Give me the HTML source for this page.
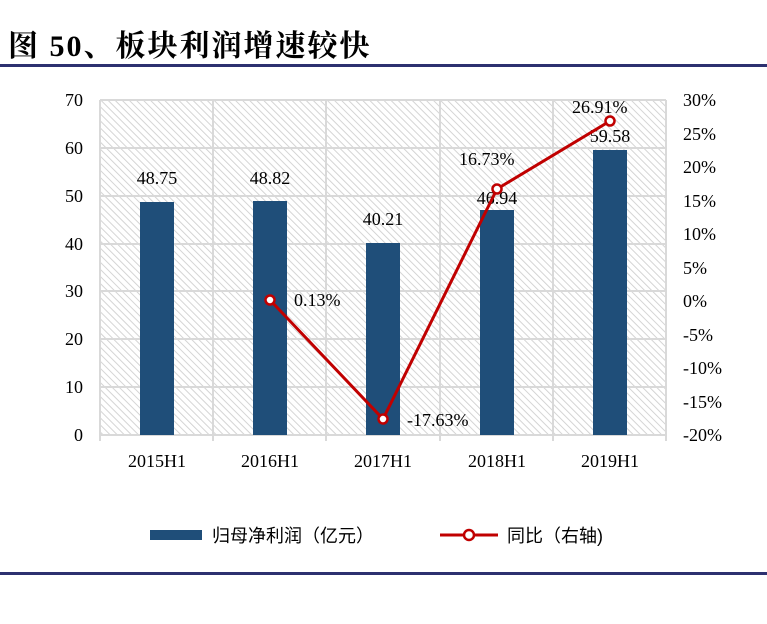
<!DOCTYPE html><html><head><meta charset="utf-8"><style>body{margin:0;background:#fff}svg{display:block}</style></head><body>
<svg width="767" height="624" xmlns="http://www.w3.org/2000/svg" font-family="Liberation Serif, Noto Serif CJK SC, serif">
<defs><pattern id="h" width="5" height="5" patternUnits="userSpaceOnUse" patternTransform="rotate(-45)"><rect width="5" height="5" fill="#fff"/><line x1="0" y1="0" x2="0" y2="5" stroke="#d0d0d0" stroke-width="1.8"/></pattern></defs>
<text x="8" y="56" font-size="30" font-weight="bold" letter-spacing="2" font-family="Liberation Serif, Noto Serif CJK SC, serif">图 50、板块利润增速较快</text>
<rect x="0" y="64" width="767" height="3" fill="#2d3170"/>
<rect x="0" y="572" width="767" height="3" fill="#2d3170"/>
<rect x="100" y="100" width="566" height="335" fill="url(#h)"/>
<g stroke="#d9d9d9" stroke-width="2">
<line x1="100" y1="100" x2="666" y2="100"/><line x1="100" y1="148" x2="666" y2="148"/><line x1="100" y1="196" x2="666" y2="196"/><line x1="100" y1="244" x2="666" y2="244"/><line x1="100" y1="291" x2="666" y2="291"/><line x1="100" y1="339" x2="666" y2="339"/><line x1="100" y1="387" x2="666" y2="387"/><line x1="100" y1="435" x2="666" y2="435"/>
<line x1="100" y1="100" x2="100" y2="441"/><line x1="213" y1="100" x2="213" y2="441"/><line x1="326" y1="100" x2="326" y2="441"/><line x1="440" y1="100" x2="440" y2="441"/><line x1="553" y1="100" x2="553" y2="441"/><line x1="666" y1="100" x2="666" y2="441"/>
</g>
<g fill="#1f4e79">
<rect x="140" y="202" width="34" height="233"/><rect x="253" y="201" width="34" height="234"/><rect x="366" y="243" width="34" height="192"/><rect x="480" y="210" width="34" height="225"/><rect x="593" y="150" width="34" height="285"/>
</g>
<g font-size="18" text-anchor="end">
<text x="83" y="106">70</text><text x="83" y="154">60</text><text x="83" y="202">50</text><text x="83" y="250">40</text><text x="83" y="297">30</text><text x="83" y="345">20</text><text x="83" y="393">10</text><text x="83" y="441">0</text>
</g>
<g font-size="18" text-anchor="start">
<text x="683" y="106">30%</text><text x="683" y="140">25%</text><text x="683" y="173">20%</text><text x="683" y="207">15%</text><text x="683" y="240">10%</text><text x="683" y="274">5%</text><text x="683" y="307">0%</text><text x="683" y="341">-5%</text><text x="683" y="374">-10%</text><text x="683" y="408">-15%</text><text x="683" y="441">-20%</text>
</g>
<g font-size="18" text-anchor="middle">
<text x="157" y="467">2015H1</text><text x="270" y="467">2016H1</text><text x="383" y="467">2017H1</text><text x="497" y="467">2018H1</text><text x="610" y="467">2019H1</text>
<text x="157" y="184">48.75</text><text x="270" y="184">48.82</text><text x="383" y="225">40.21</text><text x="497" y="204">46.94</text><text x="610" y="142">59.58</text>
</g>
<polyline points="270,300 383,419 497,189 610,121" fill="none" stroke="#c00000" stroke-width="3"/>
<g fill="#fff" stroke="#c00000" stroke-width="2.5">
<circle cx="270" cy="300" r="4.5"/><circle cx="383" cy="419" r="4.5"/><circle cx="497" cy="189" r="4.5"/><circle cx="610" cy="121" r="4.5"/>
</g>
<g font-size="18">
<text x="294" y="306">0.13%</text><text x="407" y="426">-17.63%</text><text x="459" y="165">16.73%</text><text x="572" y="113">26.91%</text>
</g>
<rect x="150" y="530" width="52" height="10" fill="#1f4e79"/>
<text x="212" y="542" font-size="18" font-family="Liberation Sans, Noto Sans CJK SC, sans-serif">归母净利润（亿元）</text>
<line x1="440" y1="535" x2="498" y2="535" stroke="#c00000" stroke-width="3"/>
<circle cx="469" cy="535" r="5" fill="#fff" stroke="#c00000" stroke-width="2.5"/>
<text x="507" y="542" font-size="18" font-family="Liberation Sans, Noto Sans CJK SC, sans-serif">同比（右轴)</text>
</svg></body></html>
